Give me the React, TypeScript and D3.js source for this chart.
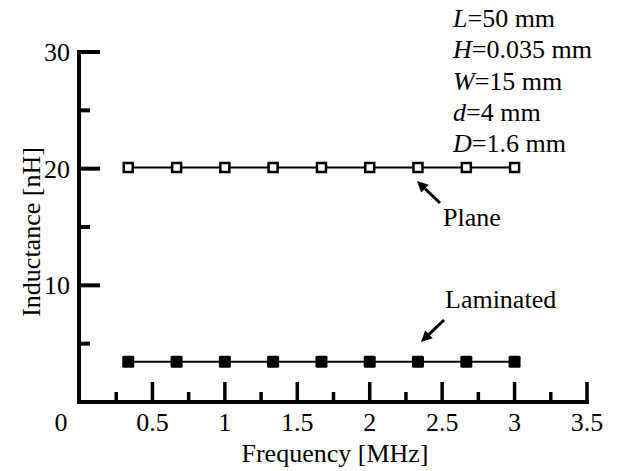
import React from "react";
import * as d3 from "d3";

const frequencies = [0.333, 0.667, 1, 1.333, 1.667, 2, 2.333, 2.667, 3];
const planeValues = [20.1, 20.1, 20.1, 20.1, 20.1, 20.1, 20.1, 20.1, 20.1];
const laminatedValues = [3.45, 3.45, 3.45, 3.45, 3.45, 3.45, 3.45, 3.45, 3.45];

const xMajorTicks = [0.5, 1, 1.5, 2, 2.5, 3, 3.5];
const xMinorTicks = [0.25, 0.75, 1.25, 1.75, 2.25, 2.75, 3.25];
const yMajorTicks = [10, 20, 30];
const yMinorTicks = [5, 15, 25];

const params = [
  { sym: "L", rest: "=50 mm" },
  { sym: "H", rest: "=0.035 mm" },
  { sym: "W", rest: "=15 mm" },
  { sym: "d", rest: "=4 mm" },
  { sym: "D", rest: "=1.6 mm" },
];

const Config = {
  width: 622,
  height: 471,
  margin: { top: 52, right: 35, bottom: 69, left: 80 },
  font: "'Liberation Serif', 'DejaVu Serif'",
};

function App() {
  const ref = React.useRef(null);

  React.useEffect(() => {
    const { width, height, margin, font } = Config;
    const x = d3
        .scaleLinear()
        .domain([0, 3.5])
        .range([margin.left, width - margin.right]),
      y = d3
        .scaleLinear()
        .domain([0, 30])
        .range([height - margin.bottom, margin.top]);

    d3.select(ref.current).selectAll("*").remove();

    const svg = d3
      .select(ref.current)
      .append("svg")
      .attr("width", width)
      .attr("height", height)
      .style("display", "block");

    svg.append("rect").attr("width", width).attr("height", height).attr("fill", "#fff");

    const axisX = x(0) - 1,
      axisY = y(0);

    // axes
    const ax = svg.append("g").attr("stroke", "#000").attr("stroke-width", 4);
    ax.append("line")
      .attr("x1", axisX)
      .attr("x2", axisX)
      .attr("y1", y(30) - 2)
      .attr("y2", axisY + 2);
    ax.append("line")
      .attr("x1", axisX - 2)
      .attr("x2", x(3.5) + 2)
      .attr("y1", axisY)
      .attr("y2", axisY);

    ax.selectAll(".xmaj")
      .data(xMajorTicks)
      .join("line")
      .attr("stroke-width", 3.5)
      .attr("x1", (d) => x(d))
      .attr("x2", (d) => x(d))
      .attr("y1", axisY)
      .attr("y2", axisY - 20);
    ax.selectAll(".xmin")
      .data(xMinorTicks)
      .join("line")
      .attr("class", "xmin")
      .attr("stroke-width", 3.5)
      .attr("x1", (d) => x(d))
      .attr("x2", (d) => x(d))
      .attr("y1", axisY)
      .attr("y2", axisY - 10);
    ax.selectAll(".ymaj")
      .data(yMajorTicks)
      .join("line")
      .attr("class", "ymaj")
      .attr("x1", axisX)
      .attr("x2", axisX + 21)
      .attr("y1", (d) => y(d))
      .attr("y2", (d) => y(d));
    ax.selectAll(".ymin")
      .data(yMinorTicks)
      .join("line")
      .attr("class", "ymin")
      .attr("x1", axisX)
      .attr("x2", axisX + 11)
      .attr("y1", (d) => y(d))
      .attr("y2", (d) => y(d));

    const txt = (sel) => sel.style("font-family", font).attr("font-size", 26);

    // tick labels
    svg
      .append("g")
      .attr("text-anchor", "middle")
      .selectAll("text")
      .data(xMajorTicks)
      .join("text")
      .call(txt)
      .attr("x", (d) => x(d))
      .attr("y", axisY + 29)
      .text((d) => d);
    svg
      .append("text")
      .call(txt)
      .attr("text-anchor", "middle")
      .attr("x", x(0) - 19)
      .attr("y", axisY + 29)
      .text("0");
    svg
      .append("g")
      .attr("text-anchor", "end")
      .selectAll("text")
      .data(yMajorTicks)
      .join("text")
      .call(txt)
      .attr("x", axisX - 9)
      .attr("y", (d) => y(d) + 9)
      .text((d) => d);

    // axis titles
    svg
      .append("text")
      .call(txt)
      .attr("text-anchor", "middle")
      .attr("x", 335)
      .attr("y", 462)
      .text("Frequency [MHz]");
    svg
      .append("text")
      .call(txt)
      .attr("text-anchor", "middle")
      .attr("transform", "translate(40,232) rotate(-90)")
      .text("Inductance [nH]");

    // series
    const plane = frequencies.map((f, i) => ({ f, v: planeValues[i] })),
      laminated = frequencies.map((f, i) => ({ f, v: laminatedValues[i] })),
      line = d3
        .line()
        .x((d) => x(d.f))
        .y((d) => y(d.v));

    [plane, laminated].forEach((series) => {
      svg
        .append("path")
        .datum(series)
        .attr("fill", "none")
        .attr("stroke", "#000")
        .attr("stroke-width", 2)
        .attr("d", line);
    });

    svg
      .append("g")
      .selectAll("rect")
      .data(plane)
      .join("rect")
      .attr("x", (d) => x(d.f) - 4.5)
      .attr("y", (d) => y(d.v) - 4.5)
      .attr("width", 9)
      .attr("height", 9)
      .attr("fill", "#fff")
      .attr("stroke", "#000")
      .attr("stroke-width", 2.5);

    svg
      .append("g")
      .selectAll("rect")
      .data(laminated)
      .join("rect")
      .attr("x", (d) => x(d.f) - 6)
      .attr("y", (d) => y(d.v) - 6)
      .attr("width", 12)
      .attr("height", 12)
      .attr("rx", 1.5)
      .attr("fill", "#000");

    // annotations
    const arrow = (x1, y1, x2, y2) => {
      const ang = Math.atan2(y2 - y1, x2 - x1),
        len = 11,
        half = 5.5,
        bx = x2 - len * Math.cos(ang),
        by = y2 - len * Math.sin(ang),
        px = -Math.sin(ang) * half,
        py = Math.cos(ang) * half;
      svg
        .append("line")
        .attr("x1", x1)
        .attr("y1", y1)
        .attr("x2", bx)
        .attr("y2", by)
        .attr("stroke", "#000")
        .attr("stroke-width", 3);
      svg
        .append("path")
        .attr("d", `M${x2},${y2}L${bx + px},${by + py}L${bx - px},${by - py}Z`)
        .attr("fill", "#000");
    };
    arrow(440, 203, 417, 181);
    arrow(444, 320, 421, 342);

    svg
      .append("text")
      .call(txt)
      .attr("x", 443)
      .attr("y", 226)
      .text("Plane");
    svg
      .append("text")
      .call(txt)
      .attr("x", 445)
      .attr("y", 308)
      .text("Laminated");

    const info = svg
      .append("g")
      .selectAll("text")
      .data(params)
      .join("text")
      .call(txt)
      .attr("x", 453)
      .attr("y", (d, i) => 27 + i * 31.3);
    info.append("tspan").attr("font-style", "italic").text((d) => d.sym);
    info.append("tspan").text((d) => d.rest);
  }, []);

  return (
    <div
      ref={ref}
      style={{ position: "absolute", left: 0, top: 0, width: 622, height: 471 }}
    ></div>
  );
}

export default App;
